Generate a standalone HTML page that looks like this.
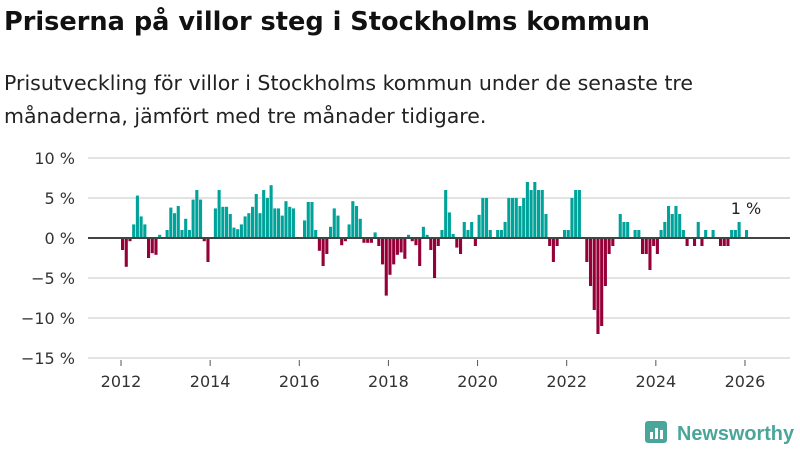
<!DOCTYPE html>
<html><head><meta charset="utf-8"><style>
body{margin:0;background:#fff;font-family:"Liberation Sans","DejaVu Sans",sans-serif;}
svg text{font-family:"DejaVu Sans","Liberation Sans",sans-serif;}
</style></head><body>
<svg width="800" height="450" viewBox="0 0 800 450" xmlns="http://www.w3.org/2000/svg">
<text x="4" y="30" font-size="25.5" font-weight="bold" fill="#111" textLength="646" lengthAdjust="spacingAndGlyphs">Priserna på villor steg i Stockholms kommun</text>
<text x="4" y="90" font-size="20.5" fill="#222" textLength="689" lengthAdjust="spacingAndGlyphs">Prisutveckling för villor i Stockholms kommun under de senaste tre</text>
<text x="4" y="123" font-size="20.5" fill="#222">månaderna, jämfört med tre månader tidigare.</text>
<g id="grid"></g>
<g id="bars"></g>
<g id="axis"></g>
<g>
<rect x="645" y="421" width="22" height="22" rx="3" fill="#4aa59a"/>
<rect x="650" y="432" width="3" height="7" fill="#fff"/><rect x="655" y="428" width="3" height="11" fill="#fff"/><rect x="660" y="430" width="3" height="9" fill="#fff"/>
<text x="677" y="440" font-size="20" font-weight="bold" fill="#4aa59a" textLength="117" lengthAdjust="spacingAndGlyphs" style="font-family:'Liberation Sans',sans-serif">Newsworthy</text>
</g>
</svg>
<script>
const yTicks=[10,5,0,-5,-10,-15];
const yTickLabels=["10 %","5 %","0 %","−5 %","−10 %","−15 %"];
const xTicks=[2012,2014,2016,2018,2020,2022,2024,2026];
const startYear=2012;
const values=[-1.5,-3.6,-0.4,1.7,5.3,2.7,1.7,-2.5,-1.9,-2.1,0.4,0,
1,3.8,3.1,4,1,2.4,1,4.8,6,4.8,-0.4,-3,
0,3.7,6,3.9,3.9,3,1.3,1.1,1.7,2.7,3.1,3.9,
5.5,3.1,6,5,6.6,3.7,3.7,2.8,4.6,3.9,3.7,0,
0,2.2,4.5,4.5,1,-1.6,-3.5,-2,1.4,3.7,2.8,-0.9,
-0.4,1.7,4.6,4,2.4,-0.6,-0.6,-0.6,0.7,-1,-3.3,-7.2,
-4.6,-3.3,-2.1,-1.8,-2.6,0.4,-0.4,-0.9,-3.5,1.4,0.4,-1.5,
-5,-1,1,6,3.2,0.5,-1.2,-2,2,1,2,-1,
2.9,5,5,1,0,1,1,2,5,5,5,4,
5,7,6,7,6,6,3,-1,-3,-1,0,1,
1,5,6,6,0,-3,-6,-9,-12,-11,-6,-2,
-1,0,3,2,2,0,1,1,-2,-2,-4,-1,
-2,1,2,4,3,4,3,1,-1,0,-1,2,
-1,1,0,1,0,-1,-1,-1,1,1,2,0,1];
const lastLabel="1 %";
const NS="http://www.w3.org/2000/svg";
const x0=121,yearW=44.57,monthW=yearW/12;
const xs=i=>x0+i*monthW;
const xYear=y=>x0+(y-startYear)*yearW;
const ys=v=>238-v*8;
function mk(t,a,p){const e=document.createElementNS(NS,t);for(const k in a)e.setAttribute(k,a[k]);p.appendChild(e);return e;}
const grid=document.getElementById('grid'),axis=document.getElementById('axis'),bars=document.getElementById('bars');
yTicks.forEach((t,i)=>{
 if(t!==0){const l=mk('line',{x1:88,x2:790,y1:ys(t),y2:ys(t),stroke:'#e3e3e3','stroke-width':2},grid);
 
 }
 const tx=mk('text',{x:75,y:ys(t)+6,'font-size':16,fill:'#333','text-anchor':'end'},axis);
 tx.textContent=yTickLabels[i];
 
 
});
values.forEach((v,i)=>{
 const r=mk('rect',{x:xs(i),y:v>=0?ys(v):ys(0),width:3.1,height:Math.abs(v)*8,fill:v>=0?'#00a39a':'#960038'},bars);
 
 
});
const z=mk('line',{x1:88,x2:790,y1:ys(0),y2:ys(0),stroke:'#444','stroke-width':2},axis);


xTicks.forEach(y=>{
 const tl=mk('line',{x1:xYear(y),x2:xYear(y),y1:360,y2:366,stroke:'#555','stroke-width':1},axis);
 
 
 const tx=mk('text',{x:xYear(y),y:387,'font-size':16,fill:'#333','text-anchor':'middle'},axis);
 tx.textContent=y;
 
 
});
const li=values.length-1;
const lb=mk('text',{x:xs(li)+1,y:ys(values[li])-16,'font-size':16,fill:'#222','text-anchor':'middle'},axis);
lb.textContent=lastLabel;


</script>
</body></html>
